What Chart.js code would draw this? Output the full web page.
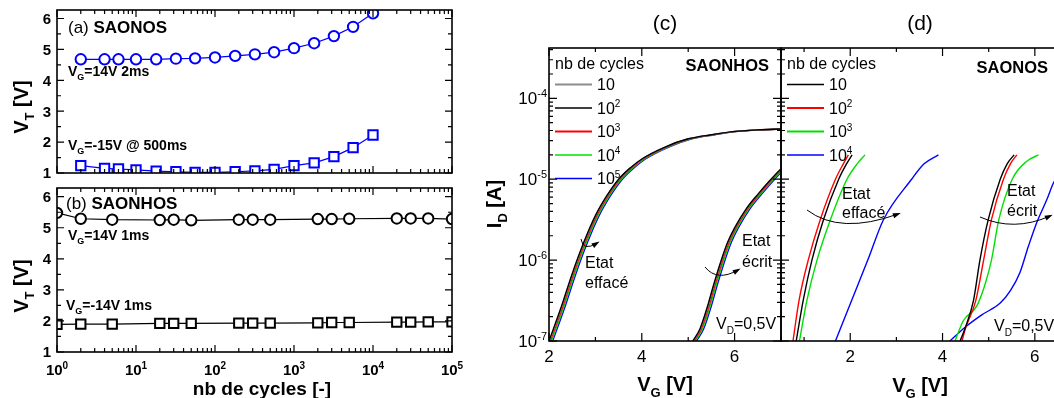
<!DOCTYPE html>
<html lang="fr">
<head>
<meta charset="UTF-8">
<title>Endurance SAONOS / SAONHOS</title>
<script src="https://cdn.jsdelivr.net/npm/chart.js"></script>
<style>
  * { margin: 0; padding: 0; box-sizing: border-box; }
  body { width: 1054px; height: 398px; overflow: hidden; background: #fff; position: relative; }
  canvas { position: absolute; left: 0; top: 0; }
</style>
</head>
<body>
<canvas id="chartA" width="1054" height="398"></canvas>
<canvas id="chartB" width="1054" height="398"></canvas>
<canvas id="chartC" width="1054" height="398"></canvas>
<canvas id="chartD" width="1100" height="398"></canvas>
<script>
// ---- (a) SAONOS : V_T en fonction du nb de cycles
const cyclesA = [2, 4, 6, 10, 18, 32, 56, 100, 180, 320, 560, 1000, 1800, 3200, 5600, 10000];
const vtEcritA = [4.68, 4.68, 4.68, 4.68, 4.68, 4.70, 4.71, 4.74, 4.79, 4.84, 4.91, 5.04, 5.20, 5.43, 5.73, 6.17];
const vtEffaceA = [1.24, 1.15, 1.13, 1.10, 1.06, 1.04, 1.02, 1.02, 1.04, 1.07, 1.12, 1.24, 1.33, 1.53, 1.82, 2.23];

// ---- (b) SAONHOS
const cyclesB = [1, 2, 5, 20, 30, 50, 200, 300, 500, 2000, 3000, 5000, 20000, 30000, 50000, 100000];
const vtEcritB = [5.48, 5.29, 5.26, 5.25, 5.26, 5.24, 5.26, 5.26, 5.26, 5.28, 5.28, 5.29, 5.30, 5.30, 5.30, 5.28];
const vtEffaceB = [1.89, 1.90, 1.90, 1.92, 1.92, 1.92, 1.93, 1.93, 1.93, 1.94, 1.95, 1.95, 1.96, 1.96, 1.97, 1.97];

// ticks (a)/(b)
const cycleTicks = [1, 10, 100, 1000, 10000, 100000];
const vtTicks = [1, 2, 3, 4, 5, 6];
const vtMinor = [1.5, 2.5, 3.5, 4.5, 5.5];

// ---- (c) SAONHOS : I_D(V_G), V_D = 0,5V
const countsC = [10, 100, 1000, 10000, 100000];
const idEffC = [1e-7, 2.5e-7, 6.8e-7, 1.66e-6, 3.55e-6, 6.3e-6, 1e-5, 1.38e-5, 1.78e-5, 2.5e-5, 3.16e-5, 3.55e-5, 3.9e-5, 4.07e-5, 4.17e-5];
const vgEffC10 = [2.01, 2.26, 2.51, 2.76, 3.01, 3.26, 3.51, 3.76, 4.01, 4.51, 5.01, 5.51, 6.01, 6.51, 7.01];
const vgEffC100 = [2.00, 2.25, 2.50, 2.75, 3.00, 3.25, 3.50, 3.75, 4.00, 4.50, 5.00, 5.50, 6.00, 6.50, 7.00];
const vgEffC1k = [2.03, 2.28, 2.53, 2.78, 3.03, 3.28, 3.53, 3.78, 4.03, 4.53, 5.03, 5.53, 6.03, 6.53, 7.03];
const vgEffC10k = [2.055, 2.305, 2.555, 2.805, 3.055, 3.305, 3.555, 3.805, 4.055, 4.555, 5.055, 5.555, 6.055, 6.555, 7.055];
const vgEffC100k = [2.08, 2.33, 2.58, 2.83, 3.08, 3.33, 3.58, 3.83, 4.08, 4.58, 5.08, 5.58, 6.08, 6.58, 7.08];
const idEcrC = [1e-7, 1.4e-7, 2.5e-7, 5e-7, 9.5e-7, 1.66e-6, 2.5e-6, 4.3e-6, 6.5e-6, 9.5e-6, 1.35e-5];
const vgEcrC10 = [5.11, 5.26, 5.41, 5.56, 5.71, 5.86, 6.01, 6.26, 6.51, 6.76, 7.01];
const vgEcrC100 = [5.10, 5.25, 5.40, 5.55, 5.70, 5.85, 6.00, 6.25, 6.50, 6.75, 7.00];
const vgEcrC1k = [5.13, 5.28, 5.43, 5.58, 5.73, 5.88, 6.03, 6.28, 6.53, 6.78, 7.03];
const vgEcrC10k = [5.155, 5.305, 5.455, 5.605, 5.755, 5.905, 6.055, 6.305, 6.555, 6.805, 7.055];
const vgEcrC100k = [5.18, 5.33, 5.48, 5.63, 5.78, 5.93, 6.08, 6.33, 6.58, 6.83, 7.08];

// ---- (d) SAONOS
const countsD = [10, 100, 1000, 10000];
const idEffD = [1e-7, 3.16e-7, 1e-6, 3.16e-6, 1e-5, 1.55e-5, 2e-5];
const vgEffD10 = [0.83, 0.98, 1.17, 1.42, 1.75, 1.92, 2.04];
const vgEffD100 = [0.76, 0.89, 1.09, 1.35, 1.68, 1.85, 1.96];
const vgEffD1k = [0.90, 1.06, 1.28, 1.57, 1.93, 2.15, 2.32];
const vgEffD10k = [1.68, 2.03, 2.38, 2.72, 3.33, 3.60, 3.91];
const idEcrD = [1e-7, 1.45e-7, 3.16e-7, 1e-6, 3.16e-6, 1e-5, 1.55e-5, 2e-5];
const vgEcrD10 = [4.38, 4.49, 4.67, 4.81, 4.99, 5.25, 5.40, 5.55];
const vgEcrD100 = [4.42, 4.50, 4.72, 4.89, 5.06, 5.32, 5.47, 5.61];
const idEcrD1k = [1e-7, 1.78e-7, 2.7e-7, 5e-7, 1e-6, 3.16e-6, 1e-5, 1.66e-5, 2e-5];
const vgEcrD1k = [4.27, 4.45, 4.74, 4.92, 5.06, 5.22, 5.51, 5.82, 6.08];
const idEcrD10k = [1e-7, 1.48e-7, 2.1e-7, 2.95e-7, 4.2e-7, 7.1e-7, 1.48e-6, 2.9e-6, 5.6e-6, 8.9e-6, 1.41e-5, 2e-5];
const vgEcrD10k = [4.16, 4.49, 4.85, 5.25, 5.47, 5.68, 5.86, 6.04, 6.26, 6.40, 6.60, 6.75];

// ticks (c)/(d)
const idTicks = [1e-7, 1e-6, 1e-5, 1e-4];
const vgTicks = [2, 4, 6];

const FONT = '"Liberation Sans", Arial, Helvetica, sans-serif';
const GRAY = '#8c8c8c', BLACK = '#000000', RED = '#ff0000', GREEN = '#00e000', BLUE = '#0000ff';

const pts = (xs, ys) => xs.map((v, i) => ({ x: v, y: ys[i] }));

// texte riche : [texte, style] ; style '' | 'b' | 'sub' | 'sup' | 'bsub'
function rich(ctx, x, y, parts, size, align) {
    const font = (s) => {
        const small = s.includes('sub') || s.includes('sup');
        return (s.startsWith('b') ? 'bold ' : '') + (small ? Math.round(size * 0.64) : size) + 'px ' + FONT;
    };
    let w = 0;
    parts.forEach(([t, s]) => { ctx.font = font(s); w += ctx.measureText(t).width; });
    let cx = align === 'center' ? x - w / 2 : align === 'right' ? x - w : x;
    const base = y + size * 0.36;
    ctx.textAlign = 'left';
    ctx.textBaseline = 'alphabetic';
    parts.forEach(([t, s]) => {
        ctx.font = font(s);
        const dy = s.includes('sub') ? size * 0.3 : s.includes('sup') ? -size * 0.42 : 0;
        ctx.fillText(t, cx, base + dy);
        cx += ctx.measureText(t).width;
    });
}

function rotated(ctx, x, y, parts, size) {
    ctx.save();
    ctx.translate(x, y);
    ctx.rotate(-Math.PI / 2);
    rich(ctx, 0, 0, parts, size, 'center');
    ctx.restore();
}

function arrow(ctx, x0, y0, cx, cy, x1, y1) {
    ctx.strokeStyle = '#000';
    ctx.lineWidth = 1;
    ctx.beginPath();
    ctx.moveTo(x0, y0);
    ctx.quadraticCurveTo(cx, cy, x1, y1);
    ctx.stroke();
    const a = Math.atan2(y1 - cy, x1 - cx);
    const c = Math.cos(a), s = Math.sin(a);
    ctx.beginPath();
    ctx.moveTo(x1 + 3 * c, y1 + 3 * s);
    ctx.lineTo(x1 - 5 * c + 2.6 * s, y1 - 5 * s - 2.6 * c);
    ctx.lineTo(x1 - 5 * c - 2.6 * s, y1 - 5 * s + 2.6 * c);
    ctx.closePath();
    ctx.fill();
}

function legend(ctx, x0, y0, counts, colors, widths) {
    ctx.fillStyle = '#000';
    rich(ctx, x0, y0, [['nb de cycles', '']], 16, 'left');
    counts.forEach((n, i) => {
        const y = y0 + 21.5 + i * 23.5;
        ctx.strokeStyle = colors[i];
        ctx.lineWidth = widths[i];
        ctx.beginPath();
        ctx.moveTo(x0, y);
        ctx.lineTo(x0 + 37, y);
        ctx.stroke();
        const e = Math.round(Math.log10(n));
        ctx.fillStyle = '#000';
        rich(ctx, x0 + 42, y, e === 1 ? [['10', '']] : [['10', ''], [String(e), 'sup']], 16, 'left');
    });
}

function logMinors(lo, hi) {
    const out = [];
    for (let e = Math.round(Math.log10(lo)); e < Math.round(Math.log10(hi)); e++) {
        for (let k = 2; k <= 9; k++) out.push(k * Math.pow(10, e));
    }
    return out;
}

// cadre, graduations vers l'intérieur et textes
function frame(cfg) {
    return {
        id: 'frame',
        afterDraw(chart) {
            const { ctx, chartArea: a } = chart;
            const xs = chart.scales.x, ys = chart.scales.y;
            const inX = v => v >= xs.min && v <= xs.max;
            const inY = v => v >= ys.min && v <= ys.max;
            ctx.save();
            ctx.strokeStyle = '#000';
            ctx.fillStyle = '#000';
            ctx.lineWidth = 1.2;
            ctx.beginPath();
            [[cfg.xMajor, cfg.major], [cfg.xMinor, cfg.minor]].forEach(([vals, len]) => vals.filter(inX).forEach(v => {
                const p = xs.getPixelForValue(v);
                ctx.moveTo(p, a.bottom); ctx.lineTo(p, a.bottom - len);
                ctx.moveTo(p, a.top); ctx.lineTo(p, a.top + len);
            }));
            [[cfg.yMajor, cfg.major], [cfg.yMinor, cfg.minor]].forEach(([vals, len]) => vals.filter(inY).forEach(v => {
                const p = ys.getPixelForValue(v);
                ctx.moveTo(a.left, p); ctx.lineTo(a.left + len, p);
                ctx.moveTo(a.right, p); ctx.lineTo(a.right - len, p);
            }));
            ctx.stroke();
            ctx.lineWidth = 1.6;
            ctx.strokeRect(a.left, a.top, a.right - a.left, a.bottom - a.top);
            ctx.fillStyle = '#000';
            if (cfg.draw) cfg.draw(ctx, chart, xs, ys);
            ctx.restore();
        }
    };
}

function baseOptions(area, width, xScale, yScale) {
    return {
        responsive: false,
        animation: false,
        events: [],
        layout: {
            autoPadding: false,
            padding: { left: area.left, top: area.top, right: width - area.right, bottom: 398 - area.bottom }
        },
        scales: { x: Object.assign({ display: false }, xScale), y: Object.assign({ display: false }, yScale) },
        plugins: { legend: { display: false }, tooltip: { enabled: false } }
    };
}

function markerSet(x, y, color, style, radius) {
    return {
        data: pts(x, y),
        borderColor: color,
        borderWidth: 1.2,
        pointStyle: style,
        pointRadius: radius,
        pointBorderWidth: 2,
        pointBorderColor: color,
        pointBackgroundColor: '#ffffff',
        fill: false
    };
}

function curve(x, y, color, order) {
    return {
        data: pts(x, y),
        borderColor: color,
        borderWidth: 1.4,
        pointRadius: 0,
        cubicInterpolationMode: 'monotone',
        fill: false,
        order: order
    };
}

const cycleMinor = logMinors(1, 100000);
const drawVtTicks = (ctx, ys) => vtTicks.forEach(v => rich(ctx, 51, ys.getPixelForValue(v), [[String(v), 'b']], 15, 'right'));

// ---------- (a)
new Chart(document.getElementById('chartA'), {
    type: 'line',
    data: { datasets: [
        markerSet(cyclesA, vtEcritA, BLUE, 'circle', 5.2),
        markerSet(cyclesA, vtEffaceA, BLUE, 'rect', 6.6)
    ] },
    options: baseOptions({ left: 57, top: 10, right: 452, bottom: 173 }, 1054,
        { type: 'logarithmic', min: 1, max: 100000 }, { type: 'linear', min: 1, max: 6.275 }),
    plugins: [frame({
        xMajor: cycleTicks, xMinor: cycleMinor, yMajor: vtTicks, yMinor: vtMinor, major: 7, minor: 4,
        draw(ctx, chart, xs, ys) {
            drawVtTicks(ctx, ys);
            rich(ctx, 68, 27, [['(a) ', ''], ['SAONOS', 'b']], 17, 'left');
            rich(ctx, 68, 71, [['V', 'b'], ['G', 'bsub'], ['=14V 2ms', 'b']], 14, 'left');
            rich(ctx, 68, 145, [['V', 'b'], ['G', 'bsub'], ['=-15V @ 500ms', 'b']], 14, 'left');
            rotated(ctx, 21, 107, [['V', 'b'], ['T', 'bsub'], [' [V]', 'b']], 20);
        }
    })]
});

// ---------- (b)
new Chart(document.getElementById('chartB'), {
    type: 'line',
    data: { datasets: [
        markerSet(cyclesB, vtEcritB, BLACK, 'circle', 5.2),
        markerSet(cyclesB, vtEffaceB, BLACK, 'rect', 6.6)
    ] },
    options: baseOptions({ left: 57, top: 188, right: 452, bottom: 352 }, 1054,
        { type: 'logarithmic', min: 1, max: 100000 }, { type: 'linear', min: 1, max: 6.28 }),
    plugins: [frame({
        xMajor: cycleTicks, xMinor: cycleMinor, yMajor: vtTicks, yMinor: vtMinor, major: 7, minor: 4,
        draw(ctx, chart, xs, ys) {
            drawVtTicks(ctx, ys);
            cycleTicks.forEach(v => rich(ctx, xs.getPixelForValue(v), 370,
                [['10', 'b'], [String(Math.round(Math.log10(v))), 'bsup']], 15, 'center'));
            rich(ctx, 262, 388, [['nb de cycles [-]', 'b']], 19, 'center');
            rich(ctx, 66, 203, [['(b) ', ''], ['SAONHOS', 'b']], 17, 'left');
            rich(ctx, 68, 235, [['V', 'b'], ['G', 'bsub'], ['=14V 1ms', 'b']], 14, 'left');
            rich(ctx, 66, 305, [['V', 'b'], ['G', 'bsub'], ['=-14V 1ms', 'b']], 14, 'left');
            rotated(ctx, 21, 286, [['V', 'b'], ['T', 'bsub'], [' [V]', 'b']], 20);
        }
    })]
});

const idMinor = logMinors(1e-7, 1e-3);

// ---------- (c)
const colorsC = [GRAY, BLACK, RED, GREEN, BLUE];
const orderC = [1, 0, 2, 3, 4];
const effC = [vgEffC10, vgEffC100, vgEffC1k, vgEffC10k, vgEffC100k];
const ecrC = [vgEcrC10, vgEcrC100, vgEcrC1k, vgEcrC10k, vgEcrC100k];
new Chart(document.getElementById('chartC'), {
    type: 'line',
    data: { datasets: [
        ...effC.map((v, i) => curve(v, idEffC, colorsC[i], orderC[i])),
        ...ecrC.map((v, i) => curve(v, idEcrC, colorsC[i], orderC[i]))
    ] },
    options: baseOptions({ left: 549, top: 48, right: 781, bottom: 341 }, 1054,
        { type: 'linear', min: 2, max: 7 }, { type: 'logarithmic', min: 1e-7, max: 4.19e-4 }),
    plugins: [frame({
        xMajor: vgTicks, xMinor: [3, 5, 7], yMajor: idTicks, yMinor: idMinor, major: 8, minor: 4,
        draw(ctx, chart, xs, ys) {
            idTicks.forEach(v => rich(ctx, 547, ys.getPixelForValue(v),
                [['10', ''], [String(Math.round(Math.log10(v))), 'sup']], 17, 'right'));
            vgTicks.forEach(v => rich(ctx, xs.getPixelForValue(v), 356, [[String(v), '']], 17, 'center'));
            rich(ctx, 665, 22, [['(c)', '']], 21, 'center');
            rich(ctx, 665, 384, [['V', 'b'], ['G', 'bsub'], [' [V]', 'b']], 20, 'center');
            rotated(ctx, 494, 204, [['I', 'b'], ['D', 'bsub'], [' [A]', 'b']], 20);
            legend(ctx, 555, 63, countsC, colorsC, [2, 1.6, 1.8, 1.6, 1.6]);
            ctx.fillStyle = '#000';
            rich(ctx, 769, 65, [['SAONHOS', 'b']], 16.5, 'right');
            rich(ctx, 585, 262, [['Etat', '']], 16, 'left');
            rich(ctx, 585, 282, [['effacé', '']], 16, 'left');
            rich(ctx, 742, 240, [['Etat', '']], 16, 'left');
            rich(ctx, 742, 261, [['écrit', '']], 16, 'left');
            rich(ctx, 716, 323, [['V', ''], ['D', 'sub'], ['=0,5V', '']], 16, 'left');
            arrow(ctx, 581, 239, 583, 252, 597, 243);
            arrow(ctx, 705, 267, 717, 282, 738, 270);
        }
    })]
});

// ---------- (d)
const colorsD = [BLACK, RED, GREEN, BLUE];
new Chart(document.getElementById('chartD'), {
    type: 'line',
    data: { datasets: [
        curve(vgEffD10, idEffD, BLACK, 0),
        curve(vgEffD100, idEffD, RED, 1),
        curve(vgEffD1k, idEffD, GREEN, 2),
        curve(vgEffD10k, idEffD, BLUE, 3),
        curve(vgEcrD10, idEcrD, BLACK, 0),
        curve(vgEcrD100, idEcrD, RED, 1),
        curve(vgEcrD1k, idEcrD1k, GREEN, 2),
        curve(vgEcrD10k, idEcrD10k, BLUE, 3)
    ] },
    options: baseOptions({ left: 781, top: 48, right: 1081, bottom: 341 }, 1100,
        { type: 'linear', min: 0.5, max: 7 }, { type: 'logarithmic', min: 1e-7, max: 4.19e-4 }),
    plugins: [frame({
        xMajor: vgTicks, xMinor: [1, 3, 5, 7], yMajor: idTicks, yMinor: idMinor, major: 8, minor: 4,
        draw(ctx, chart, xs, ys) {
            vgTicks.forEach(v => rich(ctx, xs.getPixelForValue(v), 356, [[String(v), '']], 17, 'center'));
            rich(ctx, 920, 22, [['(d)', '']], 21, 'center');
            rich(ctx, 920, 385, [['V', 'b'], ['G', 'bsub'], [' [V]', 'b']], 20, 'center');
            legend(ctx, 787, 63, countsD, colorsD, [1.6, 1.8, 1.8, 1.6]);
            ctx.fillStyle = '#000';
            rich(ctx, 1048, 67, [['SAONOS', 'b']], 16.5, 'right');
            rich(ctx, 842, 193, [['Etat', '']], 16, 'left');
            rich(ctx, 842, 212, [['effacé', '']], 16, 'left');
            rich(ctx, 1007, 190, [['Etat', '']], 16, 'left');
            rich(ctx, 1007, 210, [['écrit', '']], 16, 'left');
            rich(ctx, 994, 325, [['V', ''], ['D', 'sub'], ['=0,5V', '']], 16, 'left');
            arrow(ctx, 807, 210, 840, 235, 898, 214);
            arrow(ctx, 980, 217, 1014, 232, 1050, 216);
        }
    })]
});
</script>
</body>
</html>
